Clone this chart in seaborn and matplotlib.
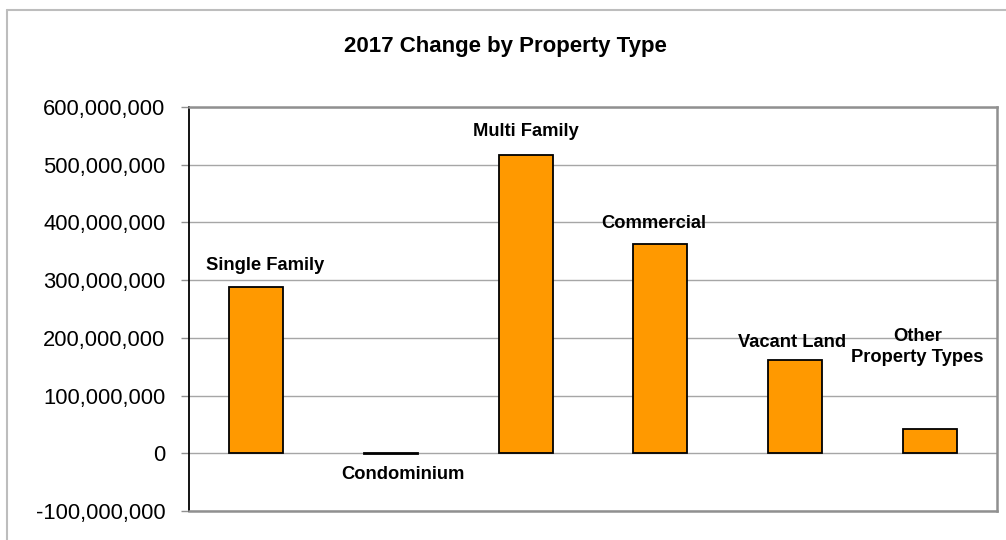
import matplotlib
matplotlib.use("Agg")
import matplotlib.pyplot as plt
import seaborn as sns
import pandas as pd
from matplotlib.lines import Line2D
from matplotlib.ticker import FuncFormatter

# ============================================
# DATA
# ============================================

property_types = ["Single Family", "Condominium", "Multi Family",
                  "Commercial", "Vacant Land", "Other\nProperty Types"]
change_2017 = [288_000_000, -2_000_000, 516_000_000,
               363_000_000, 162_000_000, 42_000_000]
y_ticks = list(range(-100_000_000, 600_000_001, 100_000_000))

df = pd.DataFrame({"type": property_types, "change": change_2017})

# label nudges in pixels (Excel labels were dragged a bit by hand)
label_nudge = [(9, 17), (12, -25), (0, 19), (-7, 16), (-3, 13), (-12, 67)]

# ============================================
# STYLE
# ============================================

sns.set_style("white")
plt.rcParams["font.family"] = ["Liberation Sans", "DejaVu Sans"]
plt.rcParams["text.color"] = "black"
plt.rcParams["ytick.labelcolor"] = "black"

fig = plt.figure(figsize=(10.06, 5.4), dpi=100)
ax = fig.add_axes([189 / 1006, 29 / 540, 808 / 1006, 404 / 540])

# ============================================
# BARS
# ============================================

sns.barplot(data=df, x="type", y="change", color="#FF9900", width=0.4,
            edgecolor="black", linewidth=1.3, saturation=1, ax=ax, zorder=3)

ax.set_ylim(y_ticks[0], y_ticks[-1])
ax.set_xlim(-0.5, len(property_types) - 0.5)
ax.set_yticks(y_ticks)
ax.yaxis.set_major_formatter(FuncFormatter(lambda v, p: f"{v:,.0f}"))
ax.set_xticks([])
ax.set_xlabel("")
ax.set_ylabel("")
ax.tick_params(axis="y", left=True, length=6, width=1, color="#909090",
               pad=11, labelsize=15.8, labelcolor="black")

ax.set_axisbelow(True)
ax.yaxis.grid(True, color="#A6A6A6", linewidth=1)

for side in ["top", "right", "bottom"]:
    ax.spines[side].set_color("#909090")
    ax.spines[side].set_linewidth(1.8)
ax.spines["left"].set_color("black")
ax.spines["left"].set_linewidth(1.3)

# data labels
for i, (name, val) in enumerate(zip(property_types, change_2017)):
    dx, dy = label_nudge[i]
    ax.annotate(name, xy=(i, val), xytext=(dx, dy), textcoords="offset pixels",
                ha="center", va="baseline", fontsize=13.2, fontweight="bold",
                linespacing=1.3, color="black")

# title
fig.text(505 / 1006, 1 - 51.7 / 540, "2017 Change by Property Type",
         ha="center", va="baseline", fontsize=16, fontweight="bold",
         color="black")

# chart area border
fig.add_artist(Line2D([6.5 / 1006, 1], [1 - 9.5 / 540, 1 - 9.5 / 540],
                      color="#BDBDBD", linewidth=1.5))
fig.add_artist(Line2D([6.5 / 1006, 6.5 / 1006], [0, 1 - 9.5 / 540],
                      color="#BDBDBD", linewidth=1.5))

fig.savefig("out.png", dpi=100)
